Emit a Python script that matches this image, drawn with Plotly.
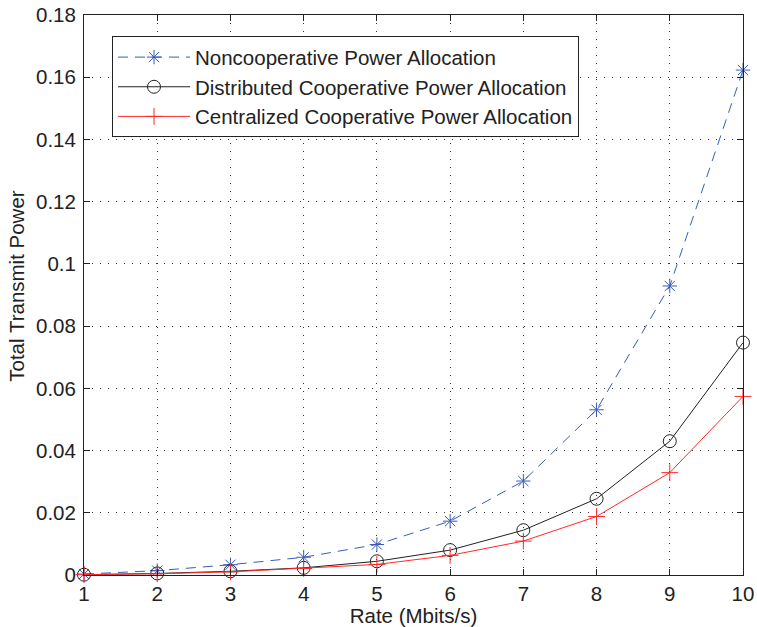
import plotly.graph_objects as go

# Rate points (Mbits/s)
rate = [1, 2, 3, 4, 5, 6, 7, 8, 9, 10]

# Total transmit power for each allocation scheme
noncooperative = [0.0003, 0.0014, 0.0033, 0.0057, 0.0098, 0.0173, 0.0302, 0.0531, 0.0929, 0.1623]
distributed = [0.0001, 0.0005, 0.0012, 0.0023, 0.0044, 0.0080, 0.0144, 0.0245, 0.0430, 0.0747]
centralized = [0.0001, 0.0004, 0.0010, 0.0021, 0.0034, 0.0063, 0.0109, 0.0188, 0.0329, 0.0574]

x_ticks = list(range(1, 11))
y_ticks = [0, 0.02, 0.04, 0.06, 0.08, 0.1, 0.12, 0.14, 0.16, 0.18]
y_tick_text = ["0", "0.02", "0.04", "0.06", "0.08", "0.1", "0.12", "0.14", "0.16", "0.18"]

BLUE = "#3a5cb8"
BLACK = "#222222"
RED = "#ff2a2a"
FONT = "Liberation Sans, Arial, sans-serif"
TXT = dict(family=FONT, size=20.5, color="#222222")

fig = go.Figure()

fig.add_trace(go.Scatter(
    x=rate, y=noncooperative, name="Noncooperative Power Allocation",
    mode="lines+markers", cliponaxis=False,
    line=dict(color=BLUE, width=1, dash="10px,7px"),
    marker=dict(symbol="asterisk-open", size=12, color=BLUE, line=dict(color=BLUE, width=1)),
))
fig.add_trace(go.Scatter(
    x=rate, y=distributed, name="Distributed Cooperative Power Allocation",
    mode="lines+markers", cliponaxis=False,
    line=dict(color=BLACK, width=1),
    marker=dict(symbol="circle-open", size=13, color=BLACK, line=dict(color=BLACK, width=1)),
))
fig.add_trace(go.Scatter(
    x=rate, y=centralized, name="Centralized Cooperative Power Allocation",
    mode="lines+markers", cliponaxis=False,
    line=dict(color=RED, width=1),
    marker=dict(symbol="cross-thin-open", size=12, color=RED, line=dict(color=RED, width=1)),
))

axis_common = dict(
    showline=True, linecolor="#222222", linewidth=1, mirror="ticks",
    ticks="inside", ticklen=6, tickcolor="#222222", tickwidth=1,
    showgrid=True, gridcolor="#333333", gridwidth=1, griddash="1px,7px",
    zeroline=False, automargin=False,
    tickfont=TXT,
)

fig.update_xaxes(
    range=[1, 10], tickvals=x_ticks,
    title=dict(text="Rate (Mbits/s)", font=TXT, standoff=6),
    **axis_common,
)
fig.update_yaxes(
    range=[0, 0.18], tickvals=y_ticks, ticktext=y_tick_text,
    ticklabelstandoff=3,
    **axis_common,
)

# y-axis title placed a little above the axis midpoint
fig.add_annotation(
    text="Total Transmit Power", textangle=-90,
    xref="paper", yref="paper", x=-0.1017, y=0.5165,
    xanchor="center", yanchor="middle", showarrow=False, font=TXT,
)

fig.update_layout(
    width=757, height=627,
    margin=dict(l=84, r=14, t=15, b=52),
    paper_bgcolor="white", plot_bgcolor="white",
    showlegend=True,
    legend=dict(
        x=0.0425, y=0.962, xanchor="left", yanchor="top",
        bgcolor="white", bordercolor="#222222", borderwidth=1,
        font=TXT,
        itemwidth=72, tracegroupgap=0,
    ),
)

fig.write_html("out.html")
